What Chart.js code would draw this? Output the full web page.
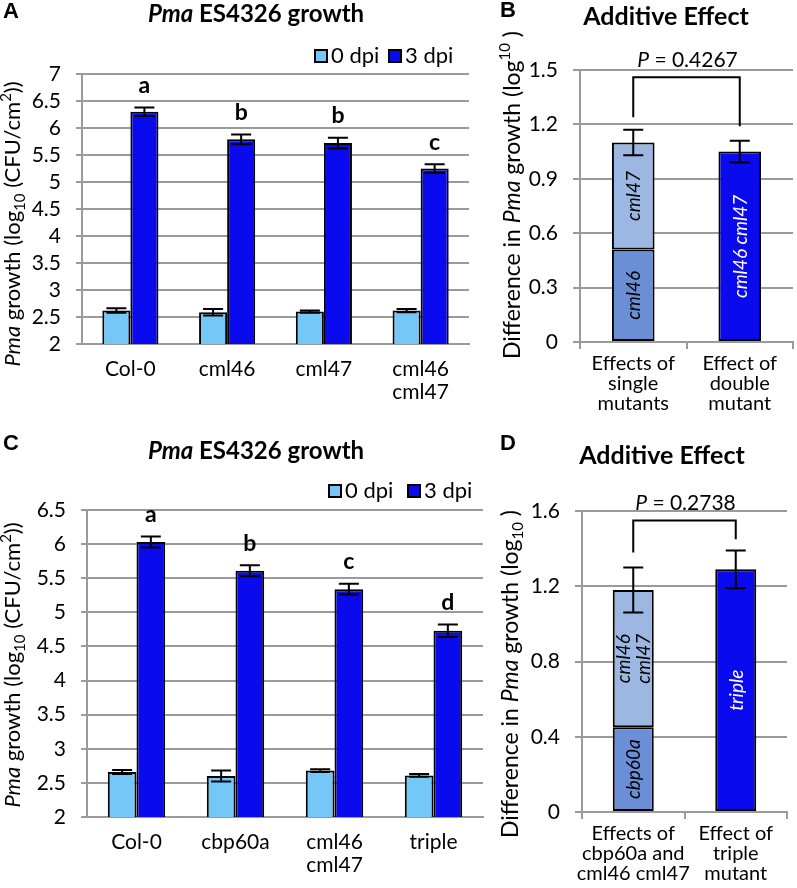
<!DOCTYPE html>
<html>
<head>
<meta charset="utf-8">
<script src="https://cdn.jsdelivr.net/npm/chart.js@4"></script>
<style>
  body { margin: 0; background: #fff; }
  #wrap { position: relative; width: 797px; height: 888px; }
  canvas { position: absolute; left: 0; top: 0; }
</style>
</head>
<body>
<div id="wrap">
  <canvas id="cA" width="797" height="888"></canvas>
  <canvas id="cB" width="797" height="888"></canvas>
  <canvas id="cC" width="797" height="888"></canvas>
  <canvas id="cD" width="797" height="888"></canvas>
</div>
<script>
// ---- Panel A data ----
const groupsA = ['Col-0', 'cml46', 'cml47', ['cml46', 'cml47']];
const dpi0A = [2.62, 2.59, 2.60, 2.62];
const dpi0ErrA = [0.04, 0.06, 0.02, 0.03];
const dpi3A = [6.30, 5.79, 5.72, 5.25];
const dpi3ErrA = [0.08, 0.09, 0.10, 0.08];
const lettersA = ['a', 'b', 'b', 'c'];

// ---- Panel B data ----
const groupsB = [['Effects of', 'single', 'mutants'], ['Effect of', 'double', 'mutant']];
const cml46B = [0.51, null];
const cml47B = [0.59, null];
const doubleB = [null, 1.05];
const totalErrB = [0.07, 0.06];
const bracketB = [1.46, 1.24, 1.19]; // top, left end, right end
const pB = '0.4267';

// ---- Panel C data ----
const groupsC = ['Col-0', 'cbp60a', ['cml46', 'cml47'], 'triple'];
const dpi0C = [2.66, 2.60, 2.68, 2.61];
const dpi0ErrC = [0.03, 0.08, 0.02, 0.02];
const dpi3C = [6.03, 5.61, 5.34, 4.73];
const dpi3ErrC = [0.08, 0.08, 0.08, 0.09];
const lettersC = ['a', 'b', 'c', 'd'];

// ---- Panel D data ----
const groupsD = [['Effects of', 'cbp60a and', 'cml46 cml47'], ['Effect of', 'triple', 'mutant']];
const cbp60aD = [0.45, null];
const cml4647D = [0.73, null];
const tripleD = [null, 1.29];
const totalErrD = [0.12, 0.10];
const bracketD = [1.55, 1.38, 1.45];
const pD = '0.2738';

const FONT = 'Lato';
const GRID = '#9a9a9a';
const LIGHT = '#74c7f7';
const DARK = '#0a0aee';

Chart.defaults.font.family = FONT;
Chart.defaults.color = '#000';

// draws a line of mixed-style text centred on (cx, cy)
function richText(ctx, segs, cx, cy, rot, color) {
  ctx.save();
  ctx.translate(cx, cy);
  ctx.rotate(rot || 0);
  let total = 0;
  segs.forEach(s => { ctx.font = s.f; s.w = ctx.measureText(s.t).width; total += s.w; });
  let x = -total / 2;
  ctx.textAlign = 'left';
  ctx.textBaseline = 'alphabetic';
  ctx.fillStyle = color || '#000';
  segs.forEach(s => { ctx.font = s.f; ctx.fillText(s.t, x, 7 + (s.dy || 0)); x += s.w; });
  ctx.restore();
}

const deco = {
  id: 'deco',
  afterDatasetsDraw(chart, args, o) {
    const ctx = chart.ctx;
    const y = chart.scales.y;

    // labels inside the bars
    (o.inner || []).forEach(l => {
      const el = chart.getDatasetMeta(l.ds).data[l.i];
      const cy = (el.y + el.base) / 2;
      l.lines.forEach((t, k) => {
        const off = (k - (l.lines.length - 1) / 2) * 20;
        richText(ctx, [{ t, f: 'italic 19px ' + FONT }], el.x + off, cy, -Math.PI / 2, l.color);
      });
    });

    // error bars
    (o.errors || []).forEach(e => {
      const meta = chart.getDatasetMeta(e.ds);
      e.errs.forEach((err, i) => {
        if (err == null) return;
        const el = meta.data[i];
        const v = y.getValueForPixel(el.y);
        const yt = y.getPixelForValue(v + err), yb = y.getPixelForValue(v - err);
        ctx.save();
        ctx.strokeStyle = '#000';
        ctx.lineWidth = 2;
        ctx.beginPath();
        ctx.moveTo(el.x, yt); ctx.lineTo(el.x, yb);
        ctx.moveTo(el.x - 10, yt); ctx.lineTo(el.x + 10, yt);
        ctx.moveTo(el.x - 10, yb); ctx.lineTo(el.x + 10, yb);
        ctx.stroke();
        ctx.restore();
        if (e.letters) {
          ctx.save();
          ctx.font = 'bold 23px ' + FONT;
          ctx.textAlign = 'center';
          ctx.textBaseline = 'middle';
          ctx.fillStyle = '#000';
          ctx.fillText(e.letters[i], el.x, yt - 22);
          ctx.restore();
        }
      });
    });

    // significance bracket
    if (o.bracket) {
      const b = o.bracket;
      const x0 = chart.getDatasetMeta(b.ds[0]).data[0].x;
      const x1 = chart.getDatasetMeta(b.ds[1]).data[1].x;
      const yt = y.getPixelForValue(b.v[0]);
      ctx.save();
      ctx.strokeStyle = '#000';
      ctx.lineWidth = 2;
      ctx.beginPath();
      ctx.moveTo(x0, y.getPixelForValue(b.v[1]));
      ctx.lineTo(x0, yt);
      ctx.lineTo(x1, yt);
      ctx.lineTo(x1, y.getPixelForValue(b.v[2]));
      ctx.stroke();
      ctx.restore();
      richText(ctx, [{ t: 'P', f: 'italic 21px ' + FONT }, { t: ' = ' + b.p, f: '21px ' + FONT }],
        (x0 + x1) / 2 + 1, yt - 17, 0);
    }

    // legend
    if (o.legend) {
      o.legend.items.forEach(it => {
        ctx.save();
        ctx.fillStyle = it.color;
        ctx.strokeStyle = '#000';
        ctx.lineWidth = 2;
        ctx.fillRect(it.x, o.legend.y - 6, 12, 12);
        ctx.strokeRect(it.x, o.legend.y - 6, 12, 12);
        ctx.font = '22px ' + FONT;
        ctx.textAlign = 'left';
        ctx.textBaseline = 'middle';
        ctx.fillStyle = '#000';
        ctx.fillText(it.text, it.x + 16, o.legend.y);
        ctx.restore();
      });
    }

    // title, panel letter, y title
    richText(ctx, o.title.segs, o.title.x, o.title.y, 0);
    ctx.save();
    ctx.font = 'bold 22px "Liberation Sans"';
    ctx.textAlign = 'left';
    ctx.textBaseline = 'middle';
    ctx.fillStyle = '#000';
    ctx.fillText(o.panel.t, o.panel.x, o.panel.y);
    ctx.restore();
    richText(ctx, o.yTitle.segs, o.yTitle.x, o.yTitle.y, -Math.PI / 2);
  }
};

function scales(area, yMin, yMax, step, xH, xTicks, xFont, xPad, ytl) {
  return {
    x: {
      afterFit: s => { s.height = xH; },
      grid: xTicks
        ? { drawOnChartArea: false, drawTicks: true, tickLength: 7, color: GRID, lineWidth: 2, offset: true }
        : { display: false },
      border: { color: GRID, width: 2 },
      ticks: { font: xFont, padding: xPad, maxRotation: 0, autoSkip: false, color: '#000' }
    },
    y: {
      min: yMin, max: yMax,
      afterFit: s => { s.width = area.l - area.pl; },
      grid: { color: GRID, lineWidth: 2, tickLength: ytl },
      border: { color: GRID, width: 2 },
      ticks: {
        stepSize: step, padding: 15, font: { size: 21 }, color: '#000', autoSkip: false,
        callback: v => String(+(+v).toFixed(2))
      }
    }
  };
}

function layout(area, xH) {
  return { padding: { left: area.pl, top: area.t, right: 797 - area.r, bottom: Math.max(0, 888 - area.b - xH) } };
}

const growthTitle = (x, y) => ({ x, y, segs: [
  { t: 'Pma', f: 'italic bold 24px ' + FONT }, { t: ' ES4326 growth', f: 'bold 24px ' + FONT }] });
const growthYTitle = (x, y) => ({ x, y, segs: [
  { t: 'Pma', f: 'italic 22px ' + FONT }, { t: ' growth (log', f: '22px ' + FONT },
  { t: '10', f: '15px ' + FONT, dy: 5 }, { t: ' (CFU/cm', f: '22px ' + FONT },
  { t: '2', f: '15px ' + FONT, dy: -9 }, { t: '))', f: '22px ' + FONT }] });
const diffYTitle = (x, y, sup) => ({ x, y, segs: [
  { t: 'Difference in ', f: '23px ' + FONT }, { t: 'Pma', f: 'italic 23px ' + FONT },
  { t: ' growth (log', f: '23px ' + FONT }, { t: '10', f: '15px ' + FONT, dy: sup ? -10 : 5 },
  { t: ' )', f: '23px ' + FONT }] });

function growthChart(id, area, labels, d0, e0, d3, e3, letters, yMax, deco2) {
  const xH = 71;
  return new Chart(document.getElementById(id), {
    type: 'bar',
    data: {
      labels,
      datasets: [
        { label: '0 dpi', data: d0, backgroundColor: LIGHT },
        { label: '3 dpi', data: d3, backgroundColor: DARK }
      ]
    },
    options: {
      responsive: false,
      animation: false,
      layout: layout(area, xH),
      datasets: { bar: { borderColor: '#000', borderWidth: 2, borderSkipped: false, categoryPercentage: 0.58, barPercentage: 1 } },
      scales: scales(area, 2, yMax, 0.5, xH, false, { size: 21, lineHeight: 1.1 }, 6, 6),
      plugins: {
        legend: { display: false },
        tooltip: { enabled: false },
        deco: Object.assign({
          errors: [{ ds: 0, errs: e0 }, { ds: 1, errs: e3, letters }]
        }, deco2)
      }
    },
    plugins: [deco]
  });
}

function additiveChart(id, area, labels, sets, errs, bracket, p, deco2) {
  const xH = 76;
  return new Chart(document.getElementById(id), {
    type: 'bar',
    data: { labels, datasets: sets },
    options: {
      responsive: false,
      animation: false,
      layout: layout(area, xH),
      datasets: { bar: { borderColor: '#000', borderWidth: 2, borderSkipped: false, categoryPercentage: 0.4, barPercentage: 1 } },
      scales: (() => {
        const s = scales(area, 0, area.max, area.step, xH, true, { size: 20, lineHeight: 1.0 }, 5, 7);
        s.x.stacked = true; s.y.stacked = true;
        return s;
      })(),
      plugins: {
        legend: { display: false },
        tooltip: { enabled: false },
        deco: Object.assign({
          errors: [{ ds: 1, errs: [errs[0], null] }, { ds: 2, errs: [null, errs[1]] }],
          bracket: { ds: [1, 2], v: bracket, p }
        }, deco2)
      }
    },
    plugins: [deco]
  });
}

growthChart('cA', { l: 82, pl: 0, t: 74, r: 469, b: 344 }, groupsA, dpi0A, dpi0ErrA, dpi3A, dpi3ErrA, lettersA, 7, {
  legend: { y: 56, items: [{ x: 315, text: '0 dpi', color: LIGHT }, { x: 389, text: '3 dpi', color: DARK }] },
  title: growthTitle(256, 15),
  panel: { t: 'A', x: 3, y: 12 },
  yTitle: growthYTitle(13, 224)
});

additiveChart('cB', { l: 580, pl: 480, t: 70, r: 793, b: 342, max: 1.5, step: 0.3 }, groupsB, [
  { label: 'cml46', data: cml46B, backgroundColor: '#6a8fd6' },
  { label: 'cml47', data: cml47B, backgroundColor: '#9db7e3' },
  { label: 'cml46 cml47', data: doubleB, backgroundColor: DARK }
], totalErrB, bracketB, pB, {
  inner: [
    { ds: 0, i: 0, lines: ['cml46'], color: '#000' },
    { ds: 1, i: 0, lines: ['cml47'], color: '#000' },
    { ds: 2, i: 1, lines: ['cml46 cml47'], color: '#fff' }
  ],
  title: { x: 666, y: 18, segs: [{ t: 'Additive Effect', f: 'bold 25px ' + FONT }] },
  panel: { t: 'B', x: 500, y: 11 },
  yTitle: diffYTitle(513, 195, true)
});

growthChart('cC', { l: 87, pl: 0, t: 510, r: 483, b: 817 }, groupsC, dpi0C, dpi0ErrC, dpi3C, dpi3ErrC, lettersC, 6.5, {
  legend: { y: 491, items: [{ x: 329, text: '0 dpi', color: LIGHT }, { x: 408, text: '3 dpi', color: DARK }] },
  title: growthTitle(256, 452),
  panel: { t: 'C', x: 3, y: 444 },
  yTitle: growthYTitle(13, 665)
});

additiveChart('cD', { l: 582, pl: 480, t: 511, r: 787, b: 812, max: 1.6, step: 0.4 }, groupsD, [
  { label: 'cbp60a', data: cbp60aD, backgroundColor: '#6a8fd6' },
  { label: 'cml46 cml47', data: cml4647D, backgroundColor: '#9db7e3' },
  { label: 'triple', data: tripleD, backgroundColor: DARK }
], totalErrD, bracketD, pD, {
  inner: [
    { ds: 0, i: 0, lines: ['cbp60a'], color: '#000' },
    { ds: 1, i: 0, lines: ['cml46', 'cml47'], color: '#000' },
    { ds: 2, i: 1, lines: ['triple'], color: '#fff' }
  ],
  title: { x: 662, y: 457, segs: [{ t: 'Additive Effect', f: 'bold 25px ' + FONT }] },
  panel: { t: 'D', x: 500, y: 444 },
  yTitle: diffYTitle(511, 674, false)
});
</script>
</body>
</html>
